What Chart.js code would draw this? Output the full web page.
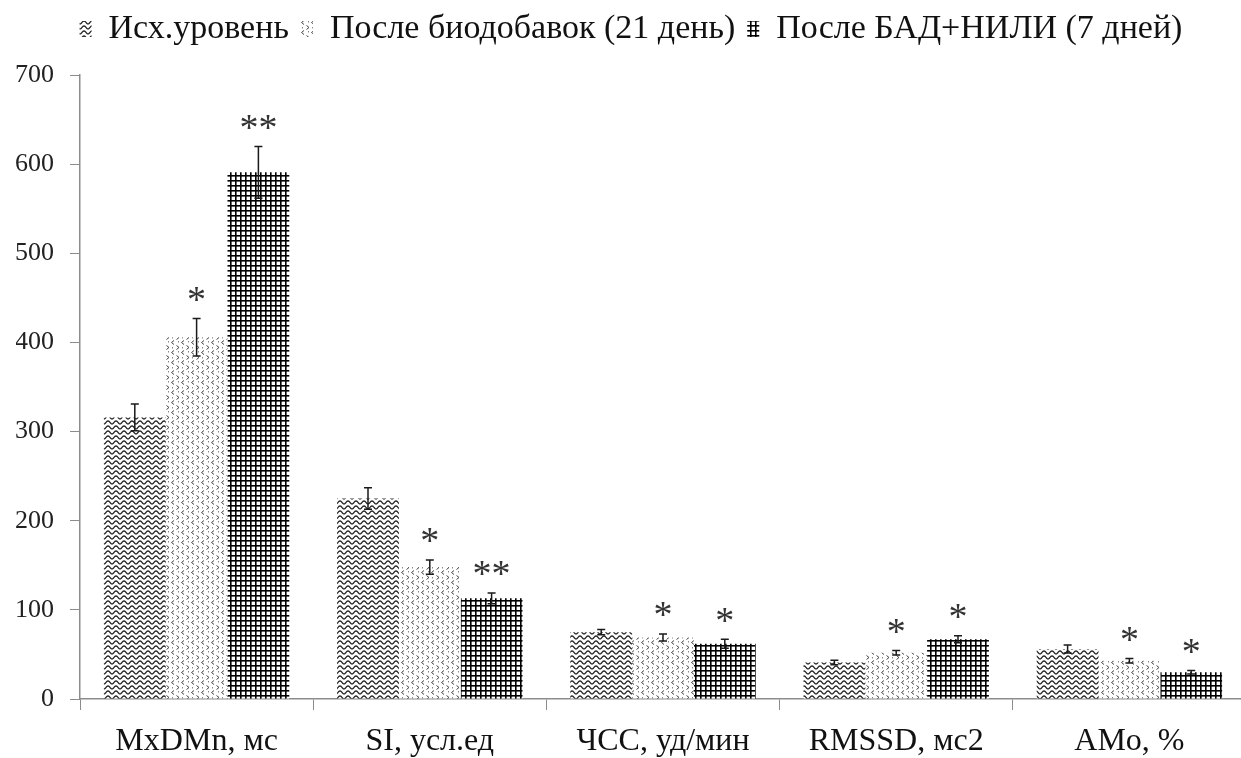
<!DOCTYPE html>
<html>
<head>
<meta charset="utf-8">
<script src="https://cdn.jsdelivr.net/npm/chart.js@4/dist/chart.umd.min.js"></script>
<style>
  html, body { margin: 0; padding: 0; background: #fff; overflow: hidden; }
  #wrap { width: 1241px; height: 758px; overflow: hidden; }
  canvas { display: block; }
</style>
</head>
<body>
<div id="wrap"><canvas id="hrv" width="1246" height="758"></canvas></div>
<script>
// Показатели вариабельности ритма сердца
const categories = ['MxDMn, мс', 'SI, усл.ед', 'ЧСС, уд/мин', 'RMSSD, мс2', 'AMo, %'];
const seriesNames = ['Исх.уровень', 'После биодобавок (21 день)', 'После БАД+НИЛИ (7 дней)'];

const baseline      = [316, 225, 75, 41, 56];
const afterSupp     = [406, 148, 69, 52, 43];
const afterLaser    = [591, 113, 62, 67, 30];

const baselineErr   = [15, 12, 3, 2.5, 4.5];
const afterSuppErr  = [21, 8, 4, 2.5, 2.5];
const afterLaserErr = [29, 6, 5, 4, 2];

// значимость различий с исходным уровнем
const baselineSig   = ['', '', '', '', ''];
const afterSuppSig  = ['*', '*', '*', '*', '*'];
const afterLaserSig = ['**', '**', '*', '*', '*'];

const yTicks = [0, 100, 200, 300, 400, 500, 600, 700];

// --- штриховки столбцов ---
function tile(w, h, draw) {
  const c = document.createElement('canvas');
  c.width = w; c.height = h;
  const g = c.getContext('2d');
  g.fillStyle = '#fff';
  g.fillRect(0, 0, w, h);
  draw(g);
  return document.createElement('canvas').getContext('2d').createPattern(c, 'repeat');
}

const wavePattern = tile(8, 5, g => {
  g.strokeStyle = '#1e1e1e';
  g.lineWidth = 1.3;
  g.beginPath();
  for (let x = -1; x <= 9; x += 0.5) {
    const y = 2.4 + 1.5 * Math.cos(2 * Math.PI * x / 8);
    if (x === -1) g.moveTo(x, y); else g.lineTo(x, y);
  }
  g.stroke();
});

const chevronPattern = tile(10, 10, g => {
  g.strokeStyle = '#444';
  g.lineWidth = 1;
  g.beginPath();
  g.moveTo(4, 0.5); g.lineTo(1.5, 2.5); g.lineTo(4, 4.5);
  g.moveTo(6.5, 5.5); g.lineTo(9, 7.5); g.lineTo(6.5, 9.5);
  g.stroke();
  g.fillStyle = '#888';
  g.fillRect(8, 1, 1, 1.5);
  g.fillRect(2, 7, 1, 1.5);
});

const gridPattern = tile(5, 5, g => {
  g.fillStyle = '#000';
  g.fillRect(0, 0, 1.6, 5);
  g.fillRect(0, 0, 5, 1.6);
});

// --- усы погрешности и звёздочки ---
const errorBars = {
  id: 'errorBars',
  afterDatasetsDraw(chart) {
    const ctx = chart.ctx;
    const y = chart.scales.y;
    chart.data.datasets.forEach((ds, i) => {
      const meta = chart.getDatasetMeta(i);
      meta.data.forEach((bar, j) => {
        const v = ds.data[j], e = ds.errors[j];
        const top = y.getPixelForValue(v + e);
        const bot = y.getPixelForValue(v - e);
        ctx.save();
        ctx.strokeStyle = '#1a1a1a';
        ctx.lineWidth = 1.5;
        ctx.beginPath();
        ctx.moveTo(bar.x, top); ctx.lineTo(bar.x, bot);
        ctx.moveTo(bar.x - 4, top); ctx.lineTo(bar.x + 4, top);
        ctx.moveTo(bar.x - 4, bot); ctx.lineTo(bar.x + 4, bot);
        ctx.stroke();
        const mark = ds.marks[j];
        if (mark) {
          ctx.font = '38px "Liberation Serif"';
          ctx.fillStyle = '#333';
          ctx.textAlign = 'center';
          ctx.textBaseline = 'alphabetic';
          const m = ctx.measureText(mark);
          const cy = top - 24;
          const base = cy + (m.actualBoundingBoxAscent - m.actualBoundingBoxDescent) / 2;
          ctx.fillText(mark, bar.x, base);
        }
        ctx.restore();
      });
    });
  }
};

const axisColor = '#8c8c8c';
const serif = "'Liberation Serif', 'Times New Roman', serif";

new Chart(document.getElementById('hrv'), {
  type: 'bar',
  data: {
    labels: categories,
    datasets: [
      { label: seriesNames[0], data: baseline,   errors: baselineErr,   marks: baselineSig,
        backgroundColor: wavePattern,    borderWidth: 0 },
      { label: seriesNames[1], data: afterSupp,  errors: afterSuppErr,  marks: afterSuppSig,
        backgroundColor: chevronPattern, borderWidth: 0 },
      { label: seriesNames[2], data: afterLaser, errors: afterLaserErr, marks: afterLaserSig,
        backgroundColor: gridPattern,    borderWidth: 0 }
    ]
  },
  options: {
    responsive: false,
    animation: false,
    layout: { padding: { top: 0, left: 16, right: 0, bottom: 0 } },
    categoryPercentage: 0.795,
    barPercentage: 1.0,
    plugins: {
      legend: {
        position: 'top',
        labels: {
          font: { family: serif, size: 34 },
          color: '#111',
          boxWidth: 12,
          boxHeight: 16,
          padding: 12
        }
      },
      // пустой промежуток между легендой и областью графика
      title: { display: true, text: '', weight: 500, padding: 0, font: { size: 16 } },
      tooltip: { enabled: false }
    },
    scales: {
      x: {
        afterFit(s) { s.height = 59; },
        border: { color: axisColor, width: 1.5 },
        grid: { offset: true, drawOnChartArea: false, tickLength: 11, color: axisColor, lineWidth: 1 },
        ticks: { font: { family: serif, size: 32 }, color: '#111', padding: 12, maxRotation: 0 }
      },
      y: {
        min: 0, max: 700,
        afterFit(s) { s.width = 64; },
        afterBuildTicks(s) { s.ticks = yTicks.map(v => ({ value: v })); },
        border: { color: axisColor, width: 1.5 },
        grid: { drawOnChartArea: false, tickLength: 10, color: axisColor, lineWidth: 1 },
        ticks: { font: { family: serif, size: 26 }, color: '#222', padding: 16 }
      }
    }
  },
  plugins: [errorBars]
});
</script>
</body>
</html>
